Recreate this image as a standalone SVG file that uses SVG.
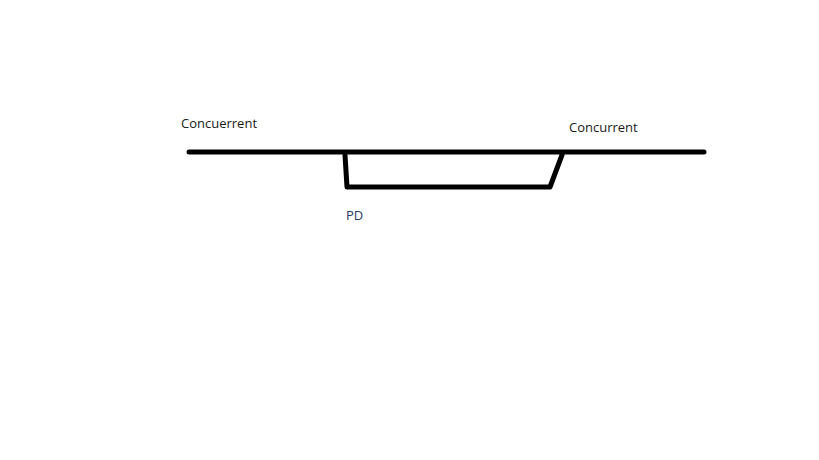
<svg xmlns="http://www.w3.org/2000/svg" width="819" height="460" viewBox="0 0 819 460">
<style>
.ln{stroke:#000;stroke-width:5;stroke-linecap:round;stroke-linejoin:round;fill:none}
.t{font-family:"Open Sans","Noto Sans",sans-serif;font-size:13px;fill:#1a1a1a}
</style>
<rect width="819" height="460" fill="#fff"/>
<g id="connectors">
<path class="ln" d="M189 152 L704 152"/>
<path class="ln" d="M345 155 L347 187 L550 187 L562 155"/>
</g>
<g id="label-left"><text class="t" x="181" y="128">Concuerrent</text></g>
<g id="label-right"><text class="t" x="569" y="132">Concurrent</text></g>
<g id="label-pd"><text class="t" x="346" y="220" style="fill:#1f3b66">PD</text></g>
</svg>
